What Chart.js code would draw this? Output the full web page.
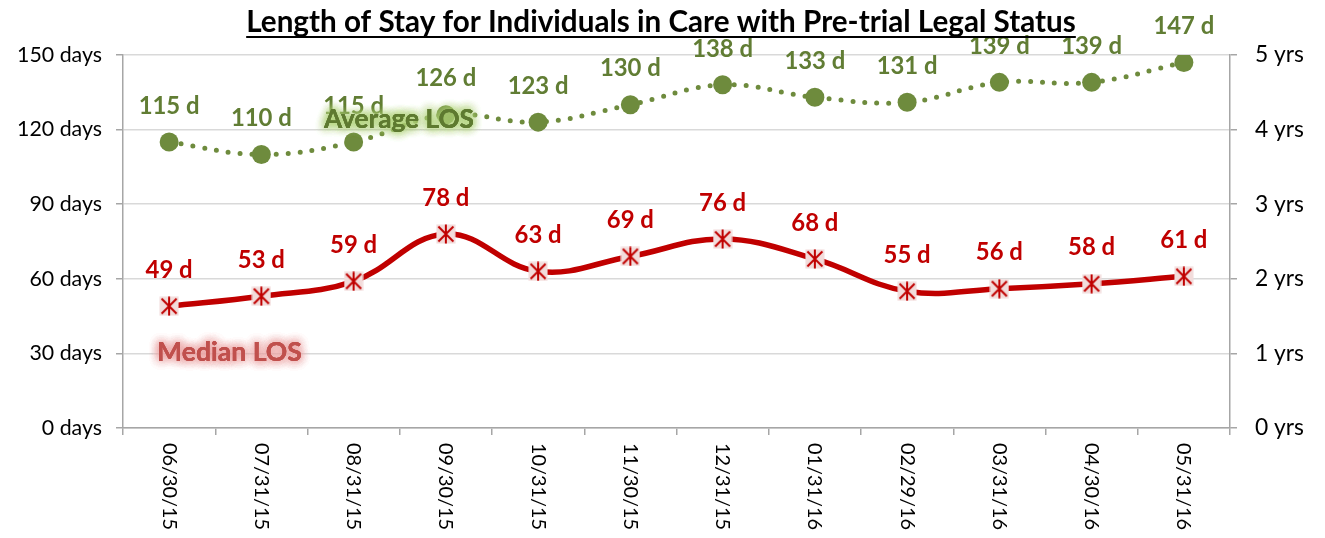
<!DOCTYPE html>
<html><head><meta charset="utf-8">
<script src="https://cdn.jsdelivr.net/npm/chart.js@4"></script>
<style>html,body{margin:0;padding:0;background:#fff;}#wrap{width:1325px;height:538px;position:relative}</style>
</head><body><div id="wrap"><canvas id="c" width="1325" height="538"></canvas></div>
<script>
const categories = ['06/30/15','07/31/15','08/31/15','09/30/15','10/31/15','11/30/15','12/31/15','01/31/16','02/29/16','03/31/16','04/30/16','05/31/16'];
const medianLOS = [49,53,59,78,63,69,76,68,55,56,58,61];
const averageLOS = [115,110,115,126,123,130,138,133,131,139,139,147];
const chartTitle = 'Length of Stay for Individuals in Care with Pre-trial Legal Status';
const seriesNames = ['Median LOS','Average LOS'];
const leftAxisSuffix = ' days';
const rightAxisSuffix = ' yrs';
const labelSuffix = ' d';

const FONT = 'Lato, Carlito, Calibri, sans-serif';
const mctx = document.createElement('canvas').getContext('2d');
function fitSize(text, width, weight){ mctx.font = weight+' 100px '+FONT; return 100*width/mctx.measureText(text).width; }

const tickSize = fitSize('150 days', 85, 'normal');
const xSize = fitSize('06/30/15', 87, 'normal');
const rightSize = fitSize('5 yrs', 49, 'normal');
const titleSize = fitSize(chartTitle, 830, 'bold');
const labelSize = fitSize('115 d', 61, 'bold');
const avgSize = fitSize(seriesNames[1], 150, 'bold');
const medSize = fitSize(seriesNames[0], 145, 'bold');

const RED = '#C00000', GREEN = '#6E8B3D', AXIS = '#A6A6A6';

const marker = document.createElement('canvas');
marker.width = 20; marker.height = 20;
(function(){
  const g = marker.getContext('2d');
  g.fillStyle = '#F2DCDB'; g.fillRect(0.5,0.5,19,19);
  g.strokeStyle = RED; g.lineWidth = 2;
  g.beginPath();
  g.moveTo(2.5,2.5); g.lineTo(17.5,17.5);
  g.moveTo(17.5,2.5); g.lineTo(2.5,17.5);
  g.moveTo(10,0.5); g.lineTo(10,19.5);
  g.stroke();
})();

const overlay = {
  id: 'overlay',
  afterDatasetsDraw(chart){
    const ctx = chart.ctx;
    ctx.save();
    chart.data.datasets.forEach((ds, di) => {
      const meta = chart.getDatasetMeta(di);
      ctx.font = 'bold ' + labelSize + 'px ' + FONT;
      ctx.fillStyle = di === 0 ? RED : '#617D34';
      ctx.textAlign = 'center'; ctx.textBaseline = 'middle';
      meta.data.forEach((el, i) => {
        ctx.fillText(ds.data[i] + labelSuffix, el.x, el.y - 36);
      });
    });
    function glowText(text, size, x, y, color, glow){
      ctx.font = 'bold ' + size + 'px ' + FONT;
      ctx.textAlign = 'left'; ctx.textBaseline = 'alphabetic';
      ctx.shadowColor = glow; ctx.shadowBlur = 10;
      ctx.fillStyle = color;
      for (let k=0;k<4;k++) ctx.fillText(text, x, y);
      ctx.shadowBlur = 0; ctx.shadowColor = 'transparent';
      ctx.fillText(text, x, y);
    }
    glowText(seriesNames[1], avgSize, 324, 128, '#5E7A30', 'rgba(175,210,120,0.95)');
    glowText(seriesNames[0], medSize, 157, 361, '#C0504D', 'rgba(235,165,165,0.95)');
    ctx.restore();
  },
  afterDraw(chart){
    const ctx = chart.ctx;
    ctx.save();
    ctx.font = 'bold ' + titleSize + 'px ' + FONT;
    ctx.fillStyle = '#000'; ctx.textAlign = 'center'; ctx.textBaseline = 'alphabetic';
    ctx.fillText(chartTitle, 661, 32);
    const w = ctx.measureText(chartTitle).width;
    ctx.strokeStyle = '#000'; ctx.lineWidth = 2;
    ctx.beginPath(); ctx.moveTo(661 - w/2, 37); ctx.lineTo(661 + w/2, 37); ctx.stroke();
    const xs = chart.scales.x;
    ctx.font = xSize + 'px ' + FONT;
    ctx.textAlign = 'left'; ctx.textBaseline = 'middle';
    categories.forEach((lab, i) => {
      const x = xs.getPixelForTick(i);
      ctx.save();
      ctx.translate(x, xs.top + 15);
      ctx.rotate(Math.PI/2);
      ctx.fillText(lab, 0, 0);
      ctx.restore();
    });
    ctx.restore();
  }
};

new Chart(document.getElementById('c'), {
  type: 'line',
  data: {
    labels: categories,
    datasets: [
      { label: seriesNames[0], data: medianLOS, yAxisID: 'y', borderColor: RED, backgroundColor: RED,
        borderWidth: 5.5, tension: 0.4, pointStyle: marker, pointRadius: 10, pointHoverRadius: 10 },
      { label: seriesNames[1], data: averageLOS, yAxisID: 'y', borderColor: GREEN, backgroundColor: GREEN,
        borderWidth: 5, borderDash: [0, 12], borderCapStyle: 'round', tension: 0.4,
        pointStyle: 'circle', pointRadius: 9.5, pointBorderWidth: 0, pointHoverRadius: 9.5 }
    ]
  },
  options: {
    responsive: false, animation: false,
    layout: { padding: { top: 55, left: 0, right: 0, bottom: 0 } },
    plugins: { legend: { display: false }, title: { display: false }, tooltip: { enabled: false } },
    scales: {
      x: {
        offset: true,
        grid: { offset: true, drawOnChartArea: false, tickLength: 7, color: AXIS, lineWidth: 1.5 },
        border: { color: AXIS, width: 1.5 },
        ticks: { minRotation: 90, maxRotation: 90, autoSkip: false, color: 'rgba(0,0,0,0)', font: { family: FONT, size: xSize } },
        afterFit: s => { s.height = 110; }
      },
      y: {
        position: 'left', min: 0, max: 150,
        ticks: { stepSize: 30, callback: v => v + leftAxisSuffix, color: '#000', padding: 14, font: { family: FONT, size: tickSize } },
        grid: { color: '#D9D9D9', lineWidth: 1.5, tickLength: 7, tickColor: AXIS },
        border: { color: AXIS, width: 1.5 },
        afterFit: s => { s.width = 123; }
      },
      y2: {
        position: 'right', min: 0, max: 5,
        ticks: { stepSize: 1, callback: v => v + rightAxisSuffix, color: '#000', padding: 18, font: { family: FONT, size: rightSize } },
        grid: { drawOnChartArea: false, tickLength: 7, color: AXIS, lineWidth: 1.5 },
        border: { color: AXIS, width: 1.5 },
        afterFit: s => { s.width = 95; }
      }
    }
  },
  plugins: [overlay]
});
</script>
</body></html>
